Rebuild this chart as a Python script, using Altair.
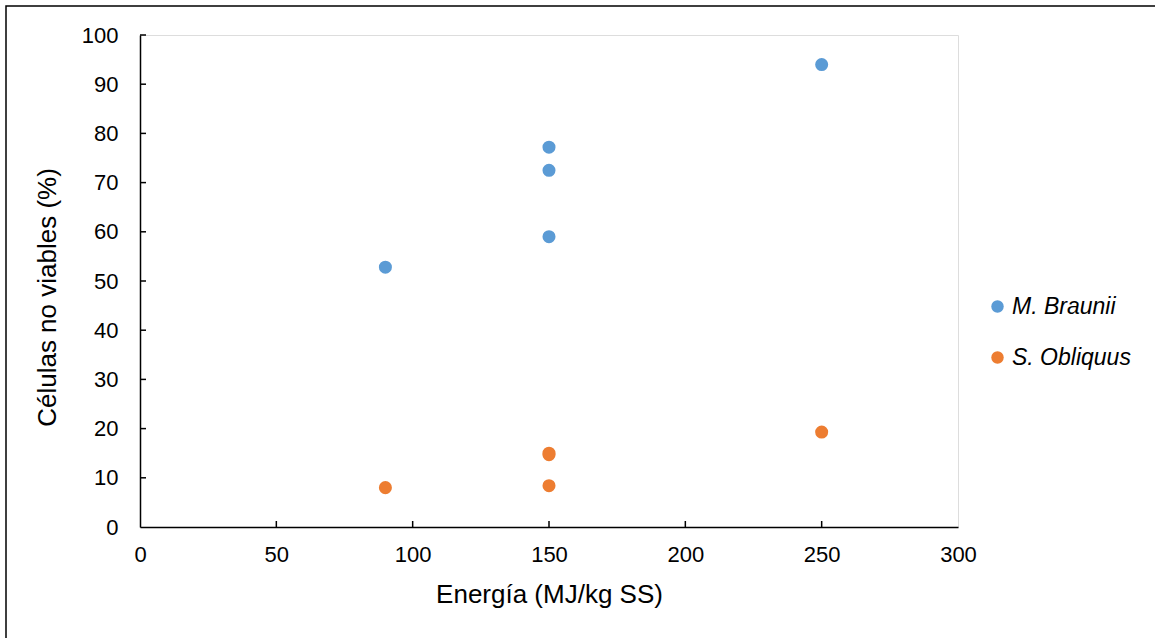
import altair as alt
import pandas as pd

energia_m = [90, 150, 150, 150, 250]
celulas_m = [52.8, 59.0, 72.5, 77.2, 94.0]
energia_s = [90, 150, 150, 150, 250]
celulas_s = [8.0, 8.4, 14.7, 15.0, 19.3]
series = ["M. Braunii", "S. Obliquus"]
colors = ["#5B9BD5", "#ED7D31"]
x_ticks = [0, 50, 100, 150, 200, 250, 300]
y_ticks = [0, 10, 20, 30, 40, 50, 60, 70, 80, 90, 100]

df = pd.DataFrame({
    "x": energia_m + energia_s,
    "y": celulas_m + celulas_s,
    "s": [series[0]] * len(energia_m) + [series[1]] * len(energia_s),
})

W, H = 818, 492
FONT = "Liberation Sans"

xscale = alt.Scale(domain=[0, 300], nice=False, zero=False)
yscale = alt.Scale(domain=[0, 100], nice=False)

frame = alt.Chart(pd.DataFrame({"a": [0]})).mark_rect(
    fill=None, stroke="black", strokeWidth=1.5
).encode(
    x=alt.value(-134), x2=alt.value(W + 400),
    y=alt.value(-29), y2=alt.value(H + 300),
)

points = alt.Chart(df).mark_circle(size=170, opacity=1).encode(
    x=alt.X("x:Q", scale=xscale,
            axis=alt.Axis(values=x_ticks, title="Energía (MJ/kg SS)", grid=False,
                          domainColor="black", domainWidth=1.5, ticks=False,
                          labelFont=FONT, labelFontSize=22, labelColor="black",
                          labelFlush=False, labelPadding=17,
                          titleFont=FONT, titleFontSize=26,
                          titleFontWeight="normal", titleColor="black",
                          titlePadding=16)),
    y=alt.Y("y:Q", scale=yscale,
            axis=alt.Axis(values=y_ticks, title="Células no viables (%)", grid=False,
                          domainColor="black", domainWidth=1.5, ticks=False,
                          labelFont=FONT, labelFontSize=22, labelColor="black",
                          labelFlush=False, labelPadding=22,
                          titleFont=FONT, titleFontSize=26,
                          titleFontWeight="normal", titleColor="black",
                          titlePadding=21, titleY=262)),
    color=alt.Color("s:N", scale=alt.Scale(domain=series, range=colors),
                    legend=alt.Legend(title=None, orient="none", legendX=846, legendY=260,
                                      labelFont=FONT, labelFontSize=23, labelFontStyle="italic",
                                      labelColor="black", symbolType="circle", symbolSize=155,
                                      symbolStrokeWidth=0, rowPadding=27, labelOffset=3)),
)

xt = alt.Chart(pd.DataFrame({"t": x_ticks[1:-1]})).mark_rule(color="black", strokeWidth=1.5).encode(
    x=alt.X("t:Q", scale=xscale), y=alt.value(H), y2=alt.value(H - 6)
)
yt = alt.Chart(pd.DataFrame({"t": y_ticks[1:]})).mark_rule(color="black", strokeWidth=1.5).encode(
    y=alt.Y("t:Q", scale=yscale), x=alt.value(0), x2=alt.value(6)
)

chart = alt.layer(frame, xt, yt, points).properties(
    width=W, height=H,
    autosize=alt.AutoSizeParams(type="none"),
    padding={"left": 140, "top": 35, "right": 1155 - 140 - W, "bottom": 638 - 35 - H},
).configure_view(stroke="#BFBFBF", strokeWidth=1.5).configure(background="white")

chart.save("out.html", embed_options={"renderer": "svg", "actions": False})
